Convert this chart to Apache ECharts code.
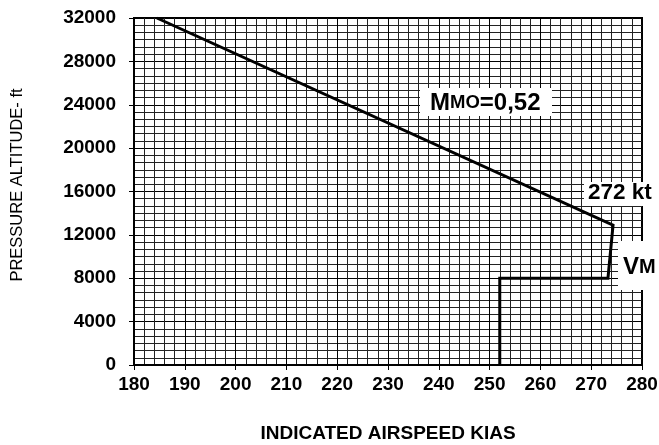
<!DOCTYPE html>
<html>
<head>
<meta charset="utf-8">
<script src="https://cdn.jsdelivr.net/npm/echarts@6/dist/echarts.min.js"></script>
<style>html,body{margin:0;padding:0;background:#fff}#c{width:659px;height:445px}</style>
</head>
<body>
<div id="c"></div>
<script>
// Data
var airspeedKias = [184.5, 274.3, 273.3, 252, 252];
var altitudeFt   = [32000, 12900, 8000, 8000, 0];
var xTickLabels  = [180, 190, 200, 210, 220, 230, 240, 250, 260, 270, 280];
var yTickLabels  = [0, 4000, 8000, 12000, 16000, 20000, 24000, 28000, 32000];

var limitLine = airspeedKias.map(function (v, i) { return [v, altitudeFt[i]]; });

var chart = echarts.init(document.getElementById('c'), null, {renderer: 'canvas'});
var font = 'Arial, "Liberation Sans", sans-serif';

chart.setOption({
  animation: false,
  backgroundColor: '#fff',
  grid: {left: 134, right: 17, top: 18, bottom: 80, show: true, borderColor: '#000', borderWidth: 2,
    backgroundColor: 'transparent', containLabel: false, outerBoundsMode: 'none'},
  xAxis: {
    type: 'value',
    min: xTickLabels[0], max: xTickLabels[xTickLabels.length - 1], interval: 10,
    name: 'INDICATED AIRSPEED KIAS', nameLocation: 'middle', nameGap: 59,
    nameTextStyle: {fontFamily: font, fontWeight: 'bold', fontSize: 19, color: '#000'},
    axisLine: {lineStyle: {color: '#000', width: 2}},
    axisTick: {show: true, length: 5, lineStyle: {color: '#000', width: 1}},
    axisLabel: {fontFamily: font, fontWeight: 'bold', fontSize: 19, color: '#000', margin: 10},
    splitLine: {show: true, lineStyle: {color: '#000', width: 1}},
    minorTick: {show: false, splitNumber: 5},
    minorSplitLine: {show: true, lineStyle: {color: '#222', width: 1}}
  },
  yAxis: {
    type: 'value',
    min: yTickLabels[0], max: yTickLabels[yTickLabels.length - 1], interval: 4000,
    name: 'PRESSURE ALTITUDE- ft', nameLocation: 'middle', nameGap: 108, nameRotate: 90,
    nameTextStyle: {fontFamily: font, fontSize: 16.5, color: '#000', padding: [0, 0, 0, 13]},
    axisLine: {show: true, lineStyle: {color: '#000', width: 2}},
    axisTick: {show: true, length: 5, lineStyle: {color: '#000', width: 1}},
    axisLabel: {fontFamily: font, fontWeight: 'bold', fontSize: 19, color: '#000', margin: 18,
      formatter: function (v) { return String(v); }},
    splitLine: {show: true, lineStyle: {color: '#000', width: 1}},
    minorTick: {show: false, splitNumber: 6},
    minorSplitLine: {show: true, lineStyle: {color: '#222', width: 1}}
  },
  series: [{
    type: 'line',
    data: limitLine,
    symbol: 'none',
    clip: true,
    lineStyle: {color: '#000', width: 3, join: 'miter'}
  }],
  graphic: [
    {type: 'rect', shape: {x: 420, y: 88, width: 132, height: 28}, style: {fill: '#fff'}, z: 100},
    {type: 'text', x: 430, y: 103, z: 101, style: {
      text: '{b|M}{s|MO}{b|=0,52}', verticalAlign: 'middle', align: 'left',
      rich: {b: {fontFamily: font, fontWeight: 'bold', fontSize: 24, fill: '#000'}, s: {fontFamily: font, fontWeight: 'bold', fontSize: 18.5, fill: '#000'}}
    }},
    {type: 'rect', shape: {x: 584, y: 182, width: 75, height: 24}, style: {fill: '#fff'}, z: 100},
    {type: 'text', x: 588, y: 193, z: 101, style: {
      text: '272 kt', verticalAlign: 'middle', align: 'left',
      fontFamily: font, fontWeight: 'bold', fontSize: 22.5, fill: '#000'
    }},
    {type: 'rect', shape: {x: 618, y: 241, width: 41, height: 49}, style: {fill: '#fff'}, z: 100},
    {type: 'text', x: 623, y: 267, z: 101, style: {
      text: '{b|V}{s|M}', verticalAlign: 'middle', align: 'left',
      rich: {b: {fontFamily: font, fontWeight: 'bold', fontSize: 24, fill: '#000'}, s: {fontFamily: font, fontWeight: 'bold', fontSize: 20, fill: '#000'}}
    }}
  ]
});
</script>
</body>
</html>
